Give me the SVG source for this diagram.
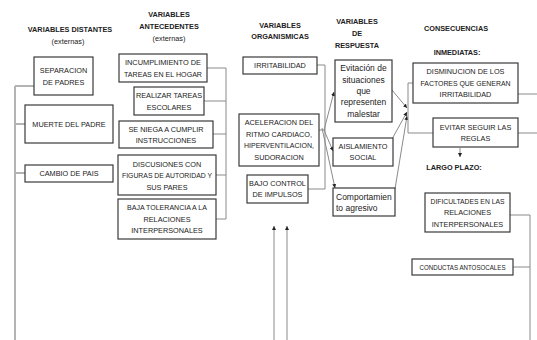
<svg xmlns="http://www.w3.org/2000/svg" width="537" height="340" viewBox="0 0 537 340">
<defs>
<marker id="ah" viewBox="0 0 6 6" refX="6" refY="3" markerWidth="4" markerHeight="4" orient="auto" markerUnits="userSpaceOnUse"><path d="M0,0 L6,3 L0,6 z" fill="#222"/></marker>
</defs>
<style>
.t{font-family:"Liberation Sans",Arial,sans-serif;font-size:7.3px;fill:#222;text-anchor:middle}
.h{font-weight:bold}
.a{font-size:8.5px}
.l{text-anchor:start}
.b{fill:#fff;stroke:#3a3a3a;stroke-width:1.2}
.c{fill:none;stroke:#8a8a8a;stroke-width:1}
.g{fill:none;stroke:#b4b4b4;stroke-width:2}
.ar{fill:none;stroke:#8a8a8a;stroke-width:1;marker-end:url(#ah)}
</style>
<rect width="537" height="340" fill="#fff"/>
<g id="titles" class="t h">
<text x="70" y="32">VARIABLES DISTANTES</text>
<text x="68" y="44" font-weight="normal">(externas)</text>
<text x="169" y="17">VARIABLES</text>
<text x="169" y="29">ANTECEDENTES</text>
<text x="169" y="41" font-weight="normal">(externas)</text>
<text x="280" y="28">VARIABLES</text>
<text x="280" y="39">ORGANISMICAS</text>
<text x="357" y="24">VARIABLES</text>
<text x="357" y="36">DE</text>
<text x="357" y="48">RESPUESTA</text>
<text x="456" y="31">CONSECUENCIAS</text>
<text x="457" y="55">INMEDIATAS:</text>
<text x="454" y="170">LARGO PLAZO:</text>
</g>
<g id="connectors">
<path class="g" d="M15,86 V340 M15,86 H34 M15,124 H25 M15,173 H25"/>
<path class="c" d="M207,68 H226 M204,101 H226 M213,134 H226 M216,175 H226 M216,219 H226 M226,68 V219"/>
<path class="c" d="M317,65 H325 V189 H308 M319,130 H325"/>
<path class="ar" d="M324,130 L334,92"/>
<path class="ar" d="M324,130 L333,151"/>
<path class="ar" d="M322,128 L335,188"/>
<path class="ar" d="M392,90 L407,108"/>
<path class="ar" d="M392,139 L407,112"/>
<path class="ar" d="M395,189 L407,116"/>
<path class="c" d="M408,83 V133 M408,83 H413 M408,133 H433"/>
<path class="c" d="M518,94 H537 M518,133 H537"/>
<path class="ar" d="M460,148 V157"/>
<path class="c" d="M510,215 H530 V340 M513,267 H530"/>
<path class="ar" d="M274,340 V226"/>
<path class="ar" d="M287,340 V226"/>
</g>
<g id="n-separacion"><rect class="b" x="34" y="57" width="59" height="38"/><text class="t" x="63.5" y="72.6">SEPARACION</text><text class="t" x="63.5" y="84.6">DE PADRES</text></g>
<g id="n-muerte"><rect class="b" x="25" y="105" width="88" height="38"/><text class="t" x="69" y="126.6">MUERTE DEL PADRE</text></g>
<g id="n-cambio"><rect class="b" x="25" y="165" width="88" height="17"/><text class="t" x="69" y="176">CAMBIO DE PAIS</text></g>
<g id="n-incumplimiento"><rect class="b" x="119" y="54" width="88" height="28"/><text class="t" x="163" y="65" textLength="76" lengthAdjust="spacingAndGlyphs">INCUMPLIMIENTO DE</text><text class="t" x="163" y="76.6" textLength="78" lengthAdjust="spacingAndGlyphs">TAREAS EN EL HOGAR</text></g>
<g id="n-realizar"><rect class="b" x="134" y="87" width="70" height="28"/><text class="t" x="169" y="98">REALIZAR TAREAS</text><text class="t" x="169" y="109.6">ESCOLARES</text></g>
<g id="n-seniega"><rect class="b" x="119" y="121" width="94" height="27"/><text class="t" x="166" y="131.6">SE NIEGA A CUMPLIR</text><text class="t" x="166" y="143">INSTRUCCIONES</text></g>
<g id="n-discusiones"><rect class="b" x="118" y="155" width="98" height="40"/><text class="t" x="167" y="166.6">DISCUSIONES CON</text><text class="t" x="167" y="178" textLength="90" lengthAdjust="spacingAndGlyphs">FIGURAS DE AUTORIDAD Y</text><text class="t" x="167" y="189.6">SUS PARES</text></g>
<g id="n-baja"><rect class="b" x="118" y="199" width="98" height="40"/><text class="t" x="167" y="210" textLength="80" lengthAdjust="spacingAndGlyphs">BAJA TOLERANCIA A LA</text><text class="t" x="167" y="221.6">RELACIONES</text><text class="t" x="167" y="233">INTERPERSONALES</text></g>
<g id="n-irritabilidad"><rect class="b" x="243" y="57" width="74" height="17"/><text class="t" x="280" y="68">IRRITABILIDAD</text></g>
<g id="n-aceleracion"><rect class="b" x="239" y="114" width="80" height="52"/><text class="t" x="279" y="125.4">ACELERACION DEL</text><text class="t" x="279" y="136.9">RITMO CARDIACO,</text><text class="t" x="279" y="148.4" textLength="70" lengthAdjust="spacingAndGlyphs">HIPERVENTILACION,</text><text class="t" x="279" y="159.9">SUDORACION</text></g>
<g id="n-bajo"><rect class="b" x="247" y="175" width="61" height="28"/><text class="t" x="277.5" y="185.9">BAJO CONTROL</text><text class="t" x="277.5" y="197.4">DE IMPULSOS</text></g>
<g id="n-evitacion"><rect class="b" x="335" y="60" width="57" height="62"/><text class="t a" x="363.5" y="71.4">Evitación de</text><text class="t a" x="363.5" y="82.7">situaciones</text><text class="t a" x="363.5" y="94">que</text><text class="t a" x="363.5" y="105.3">representen</text><text class="t a" x="363.5" y="116.6">malestar</text></g>
<g id="n-aislamiento"><rect class="b" x="333" y="138" width="60" height="28"/><text class="t" x="363" y="148.9">AISLAMIENTO</text><text class="t" x="363" y="160.4">SOCIAL</text></g>
<g id="n-comportamiento"><rect class="b" x="333" y="188" width="62" height="28"/><text class="t a l" x="336" y="199.5">Comportamien</text><text class="t a l" x="336" y="211">to agresivo</text></g>
<g id="n-disminucion"><rect class="b" x="413" y="63" width="105" height="40"/><text class="t" x="465.5" y="74.1">DISMINUCION DE LOS</text><text class="t" x="465.5" y="85.6" textLength="90" lengthAdjust="spacingAndGlyphs">FACTORES QUE GENERAN</text><text class="t" x="465.5" y="97.1">IRRITABILIDAD</text></g>
<g id="n-evitar"><rect class="b" x="433" y="118" width="85" height="29"/><text class="t" x="475.5" y="129.6">EVITAR SEGUIR LAS</text><text class="t" x="475.5" y="141">REGLAS</text></g>
<g id="n-dificultades"><rect class="b" x="425" y="193" width="85" height="39"/><text class="t" x="467.5" y="203.6" textLength="74" lengthAdjust="spacingAndGlyphs">DIFICULTADES EN LAS</text><text class="t" x="467.5" y="215.1">RELACIONES</text><text class="t" x="467.5" y="226.6">INTERPERSONALES</text></g>
<g id="n-conductas"><rect class="b" x="412" y="259" width="101" height="16"/><text class="t" x="462.5" y="269.6" textLength="86" lengthAdjust="spacingAndGlyphs">CONDUCTAS ANTOSOCALES</text></g>
</svg>
